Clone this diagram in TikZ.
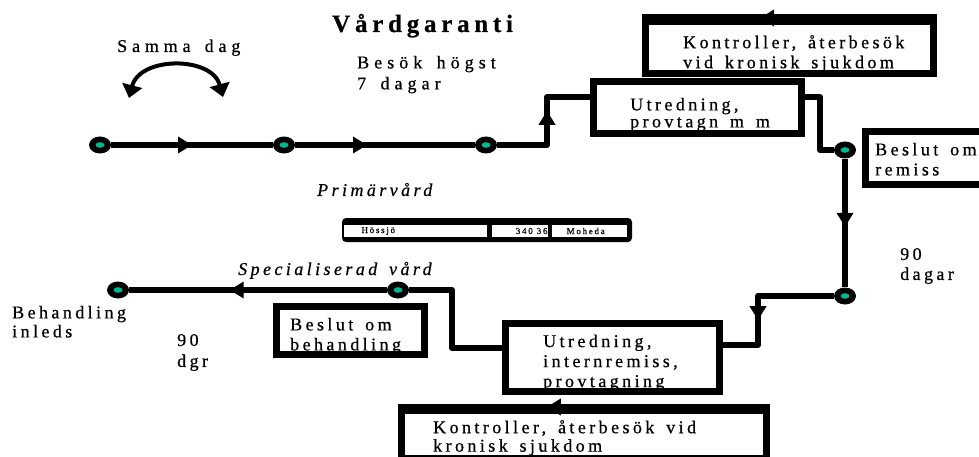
\documentclass[tikz,border=0pt]{standalone}
\usepackage{fontspec}
\setmainfont{Liberation Serif}[LetterSpace=19,WordSpace=1.5,FakeBold=0.6]
\usetikzlibrary{arrows.meta,decorations.markings,shapes.geometric}
\definecolor{dotgreen}{RGB}{0,185,145}

\begin{document}
\begin{tikzpicture}[x=1pt,y=-1pt,
  flow/.style={line width=6pt,line join=round},
  arrowat/.style={postaction={decorate},decoration={markings,mark=at position #1 with {\arrow{Triangle[width=16pt,length=14pt]}}}},
  dot/.style={ellipse,fill=black,minimum width=22pt,minimum height=17pt,inner sep=0pt,
    path picture={\fill[dotgreen] (path picture bounding box.center) ellipse [x radius=4.5pt,y radius=2.8pt];}},
  box/.style={draw,fill=white,line width=7pt,inner sep=0pt},
  txt/.style={inner sep=0pt,align=left,anchor=north west,font=\fontsize{18}{20}\selectfont},
  cell/.style={fill=white,inner ysep=0pt,minimum height=12pt,align=left,font=\fontsize{9}{10}\selectfont}]
  \useasboundingbox (0,0) rectangle (979,457);
  \clip (0,0) rectangle (979,457);

  % titles
  \node[txt,anchor=base west,font=\bfseries\fontsize{25}{30}\selectfont] (title) at (332,32) {Vårdgaranti};
  \node[txt,anchor=base west,font={\fontsize{18}{21}\selectfont\addfontfeatures{LetterSpace=27}}] (samma) at (117,52) {Samma dag};
  \coordinate (sL) at (129,98);
  \coordinate (sR) at (223,97);
  \draw[line width=4pt,{Triangle[width=20pt,length=13pt]}-{Triangle[width=20pt,length=13pt]}] (sL) .. controls (140,56) and (212,56) .. (sR);
  \node[txt,font={\fontsize{18}{21}\selectfont\addfontfeatures{LetterSpace=28}}] (besok) at (357,55.7) {Besök högst\\7 dagar};

  % boxes
  \node[box,minimum width=288pt,minimum height=52pt] (kon1) at (789.5,47.5) {};
  \draw[line width=7pt,arrowat=0.6] (kon1.north east) -- (kon1.north west);
  \node[box,minimum width=208pt,minimum height=52pt] (utr1) at (697.5,107.5) {};
  \node[box,minimum width=131pt,minimum height=53pt] (rem) at (931,158) {};
  \node[box,minimum width=148pt,minimum height=48pt] (behb) at (350.5,330.5) {};
  \node[box,minimum width=214pt,minimum height=68pt] (utr2) at (612.5,357.5) {};
  \node[box,minimum width=365pt,minimum height=48pt] (kon2) at (584,434.5) {};
  \draw[line width=7pt,arrowat=0.6] (kon2.north east) -- (kon2.north west);

  \node[txt] (kon1t) at (683,35) {Kontroller, återbesök\\vid kronisk sjukdom};
  \node[txt,font=\fontsize{18}{17}\selectfont] (utr1t) at (630,97.7) {Utredning,\\provtagn m m};
  \node[txt] (remt) at (875,142.7) {Beslut om\\remiss};
  \node[txt] (behbt) at (290,317.7) {Beslut om\\behandling};
  \node[txt] (utr2t) at (543,334.4) {Utredning,\\internremiss,\\provtagning};
  \node[txt,font=\fontsize{18}{18.4}\selectfont] (kon2t) at (433,420) {Kontroller, återbesök vid\\kronisk sjukdom};

  % dots
  \node[dot] (d1) at (100,145) {};
  \node[dot] (d2) at (284,145) {};
  \node[dot] (d3) at (486,145) {};
  \node[dot] (d4) at (845,150) {};
  \node[dot] (d5) at (845,296) {};
  \node[dot] (d6) at (398,290) {};
  \node[dot] (d7) at (118,290) {};
  \coordinate (c1) at (547,145);
  \coordinate (c2) at (547,97);
  \coordinate (c3) at (820,97);
  \coordinate (c4) at (758,345);
  \coordinate (c5) at (452,348);

  % flow
  \draw[flow,arrowat=0.5] (d1) -- (d2);
  \draw[flow,arrowat=0.4] (d2) -- (d3);
  \draw[flow,arrowat=84pt] (d3) -- (c1) -- (c2) -- (c2 -| utr1.west);
  \draw[flow] (c2 -| utr1.east) -- (c3) |- (d4);
  \draw[flow,arrowat=0.53] (d4) -- (d5);
  \draw[flow,arrowat=100pt] (d5) -| (c4) -- (c4 -| utr2.east);
  \draw[flow] (c5 -| utr2.west) -- (c5) |- (d6);
  \draw[flow,arrowat=0.61] (d6) -- (d7);

  % labels
  \node[txt] (dag90) at (900,247.8) {90\\dagar};
  \node[txt,anchor=base west,font=\itshape\fontsize{18}{20}\selectfont] (prim) at (317,196) {Primärvård};
  \node[txt,anchor=base west,font=\itshape\fontsize{18}{20}\selectfont] (spec) at (238,275) {Specialiserad vård};
  \node[txt,font=\fontsize{18}{19}\selectfont] (inleds) at (12,305.7) {Behandling\\inleds};
  \node[txt,font=\fontsize{18}{21}\selectfont] (dgr90) at (177,333.8) {90\\dgr};

  % address table
  \node[fill=black,rounded corners=4pt,minimum width=290pt,minimum height=24pt,inner sep=0pt] (tab) at (487,230) {};
  \node[cell,text width=107pt,inner xsep=18pt] (hos) at (415,231) {Hössjö};
  \node[cell,text width=55pt,inner xsep=0.5pt,align=right] (pnr) at (520,231) {340\hspace{4pt}36};
  \node[cell,text width=45pt,inner xsep=15pt] (moh) at (589.2,231) {Moheda};
\end{tikzpicture}
\end{document}
